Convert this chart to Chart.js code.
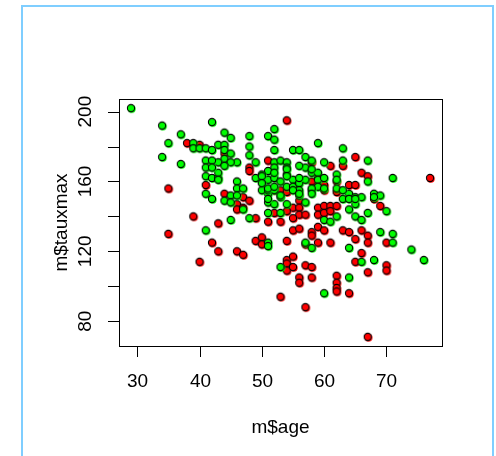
<!DOCTYPE html>
<html lang="en">
<head>
  <meta charset="UTF-8" />
  <title>m$tauxmax vs m$age</title>
  <script src="https://cdn.jsdelivr.net/npm/chart.js"></script>
  <style>
    body {
      margin: 0;
      background: #fff;
      overflow: hidden;
    }

    .frame {
      position: absolute;
      left: 21px;
      top: 5px;
      width: 469px;
      height: 470px;
      border: 2px solid #7fceff;
    }

    canvas {
      position: absolute;
      left: 0;
      top: 0;
    }
  </style>
</head>
<body>

  <div class="frame"></div>
  <canvas id="scatter" width="496" height="456"></canvas>

  <script>
    // absence (green)
    const greenAge = [29, 34, 42, 37, 44, 45, 35, 48, 48, 48, 39, 39, 40, 41, 42, 43, 44, 44, 34, 37,
      41, 41, 41, 41, 42, 42, 43, 43, 44, 46, 46, 47, 47, 45, 48, 41, 51, 51, 57, 58,
      69, 71, 71, 74, 64, 66, 68, 53, 64, 60, 76, 45, 45, 46, 51, 51, 51, 52, 53, 53,
      54, 56, 57, 60, 61, 62, 63, 64, 65, 65, 66, 64, 65, 66, 67, 68, 69, 70, 52, 51,
      52, 52, 55, 45, 44, 43, 42, 42, 43, 46, 45, 44, 49, 52, 52, 51, 50, 50, 51, 52,
      53, 54, 54, 54, 55, 53, 54, 55, 56, 49, 50, 51, 52, 59, 56, 57, 58, 57, 58, 59,
      57, 56, 59, 60, 63, 63, 67, 67, 71, 62, 62, 59, 58, 56, 50, 50, 51, 51, 52, 52,
      53, 54, 54, 55, 56, 58, 58, 60, 60, 62, 63, 64, 65, 68, 58, 56];
    const greenRate = [202, 192, 194, 187, 188, 185, 182, 186, 180, 175, 182, 179, 179, 179, 178, 181, 181, 178, 174, 170,
      172, 168, 163, 153, 150, 162, 162, 165, 149, 160, 156, 156, 144, 138, 139, 132, 125, 123, 125, 122,
      131, 130, 125, 121, 122, 114, 115, 111, 105, 96, 115, 152, 148, 152, 153, 148, 142, 147, 151, 142,
      147, 152, 148, 138, 137, 140, 150, 153, 151, 147, 151, 144, 140, 138, 142, 153, 152, 143, 190, 186,
      184, 178, 178, 176, 173, 171, 172, 168, 161, 171, 171, 169, 171, 171, 168, 166, 164, 160, 161, 162,
      172, 171, 168, 164, 161, 160, 157, 157, 159, 162, 155, 155, 155, 182, 178, 174, 172, 168, 165, 165,
      161, 162, 161, 171, 179, 172, 172, 160, 162, 164, 156, 157, 155, 155, 163, 159, 156, 150, 165, 157,
      152, 167, 163, 155, 153, 156, 153, 162, 156, 161, 155, 150, 150, 151, 167, 169];

    // presence (red)
    const redAge = [38, 40, 44, 41, 44, 46, 47, 48, 35, 39, 43, 49, 35, 42, 43, 40, 46, 47, 49, 50,
      50, 54, 55, 56, 58, 58, 59, 60, 57, 59, 61, 63, 64, 65, 66, 67, 67, 70, 66, 65,
      67, 70, 70, 54, 54, 54, 55, 55, 56, 56, 57, 58, 58, 62, 62, 62, 62, 64, 53, 57,
      67, 77, 54, 46, 47, 56, 55, 56, 56, 57, 59, 59, 60, 60, 61, 61, 62, 62, 68, 69,
      48, 48, 51, 53, 54, 58, 61, 63, 65, 66, 67, 62, 58, 59, 60, 60, 64, 65, 52, 51,
      53, 54, 55, 52];
    const redRate = [182, 181, 176, 158, 153, 147, 151, 149, 156, 140, 136, 139, 130, 125, 120, 114, 120, 118, 126, 128,
      124, 126, 132, 133, 131, 129, 134, 132, 124, 125, 125, 132, 131, 127, 132, 129, 125, 125, 119, 114,
      108, 112, 109, 115, 113, 109, 117, 111, 105, 102, 112, 111, 105, 106, 102, 99, 97, 96, 94, 88,
      71, 162, 195, 144, 145, 149, 145, 145, 141, 141, 145, 141, 146, 142, 146, 143, 146, 154, 150, 146,
      168, 166, 172, 155, 154, 171, 169, 169, 174, 165, 163, 160, 160, 162, 155, 158, 158, 158, 142, 137,
      137, 143, 139, 155];

    const xTicks = [30, 40, 50, 60, 70];
    const yTicks = [80, 120, 160, 200];
    const yMinorTicks = [100, 140, 180];

    function toPoints(xs, ys) {
      return xs.map((x, i) => ({ x: x, y: ys[i] }));
    }

    // filled circle with black ring, colour bleeding a little to the lower right
    function makeDot(color) {
      const c = document.createElement('canvas');
      c.width = 12;
      c.height = 12;
      const g = c.getContext('2d');
      g.fillStyle = color;
      g.beginPath();
      g.arc(6.7, 6.7, 4, 0, Math.PI * 2);
      g.fill();
      g.beginPath();
      g.arc(6, 6, 3.6, 0, Math.PI * 2);
      g.fill();
      g.strokeStyle = '#000';
      g.lineWidth = 1.1;
      g.stroke();
      return c;
    }

    const font = '"Liberation Sans", Arial, sans-serif';

    const axesPlugin = {
      id: 'rAxes',
      afterDatasetsDraw(chart) {
        const ctx = chart.ctx;
        const a = chart.chartArea;
        const xs = chart.scales.x;
        const ys = chart.scales.y;
        ctx.save();
        ctx.strokeStyle = '#000';
        ctx.lineWidth = 1;
        ctx.strokeRect(a.left + 0.5, a.top + 0.5, a.right - a.left, a.bottom - a.top);

        ctx.fillStyle = '#000';
        ctx.font = '19px ' + font;
        ctx.textAlign = 'center';
        ctx.textBaseline = 'middle';

        xTicks.forEach(v => {
          const px = Math.round(xs.getPixelForValue(v)) + 0.5;
          ctx.beginPath();
          ctx.moveTo(px, a.bottom);
          ctx.lineTo(px, a.bottom + 11);
          ctx.stroke();
          ctx.fillText(String(v), px, 382);
        });

        yTicks.concat(yMinorTicks).forEach(v => {
          const py = Math.round(ys.getPixelForValue(v)) + 0.5;
          ctx.beginPath();
          ctx.moveTo(a.left - 11, py);
          ctx.lineTo(a.left, py);
          ctx.stroke();
        });

        yTicks.forEach(v => {
          const py = ys.getPixelForValue(v);
          ctx.save();
          ctx.translate(85.5, py);
          ctx.rotate(-Math.PI / 2);
          ctx.fillText(String(v), 0, 0);
          ctx.restore();
        });

        ctx.fillText('m$age', (a.left + a.right) / 2, 428);
        ctx.save();
        ctx.translate(62, (a.top + a.bottom) / 2);
        ctx.rotate(-Math.PI / 2);
        ctx.fillText('m$tauxmax', 0, 0);
        ctx.restore();
        ctx.restore();
      }
    };

    new Chart(document.getElementById('scatter'), {
      type: 'scatter',
      data: {
        datasets: [
          {
            label: 'absence',
            data: toPoints(greenAge, greenRate),
            pointStyle: makeDot('#00ff00'),
            pointRadius: 5
          },
          {
            label: 'presence',
            data: toPoints(redAge, redRate),
            pointStyle: makeDot('#ff0000'),
            pointRadius: 5
          }
        ]
      },
      options: {
        responsive: false,
        animation: false,
        layout: {
          padding: { left: 119, top: 99, right: 54, bottom: 110 }
        },
        plugins: {
          legend: { display: false },
          tooltip: { enabled: false }
        },
        scales: {
          x: { type: 'linear', min: 27.08, max: 78.92, display: false },
          y: { min: 65.76, max: 207.24, display: false }
        }
      },
      plugins: [axesPlugin]
    });
  </script>
</body>
</html>
